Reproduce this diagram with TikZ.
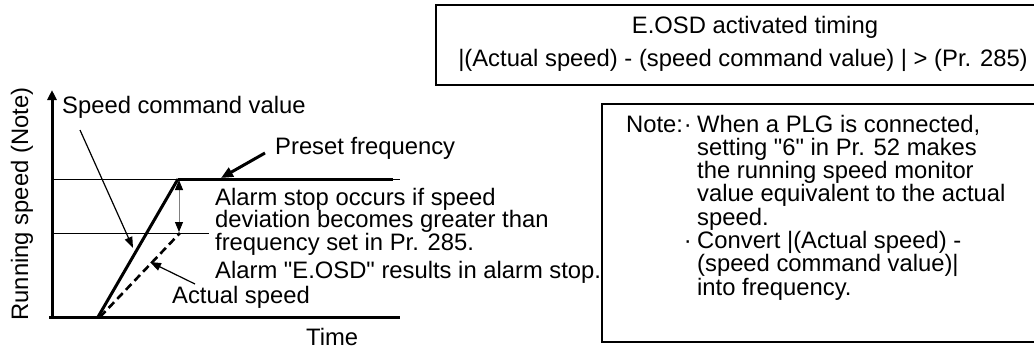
\documentclass[tikz,border=0pt]{standalone}
\usepackage{fontspec}
\setmainfont{Liberation Sans}
\usetikzlibrary{arrows.meta,positioning}
\definecolor{gapgray}{RGB}{128,128,128}

\begin{document}
\begin{tikzpicture}[x=1pt, y=-1pt,
  every node/.style={font=\fontsize{23.8}{23.8}\selectfont, inner sep=0pt},
  lbl/.style={anchor=base west},
  ptr/.style={line width=1.2pt, -{Triangle[length=11pt,width=8pt]}},
  boxline/.style={line width=2.2pt}]
\useasboundingbox (0,0) rectangle (1034,349);
% axes
\coordinate (origin) at (52,317);
\coordinate (ytop) at (52,90);
\coordinate (xend) at (400,317);
\draw[line width=3pt, -{Triangle[length=10pt,width=9pt]}] (origin) -- (ytop);
\draw[line width=3pt] (49,317) -- (xend);
\node[rotate=90] (ylab) at (22,204) {Running speed (Note)};
\node[lbl] (tlab) at (306,345) {Time};
% levels and speed curves
\coordinate (cmdstart) at (98,317);
\coordinate (cmdtop) at (178,179);
\coordinate (actstart) at (100,317);
\coordinate (acttop) at (180,233);
\draw[line width=1pt] (52,179) -- (cmdtop);
\draw[line width=3pt] (cmdtop) -- (393,179);
\draw[line width=1pt] (393,179) -- (400,179);
\draw[line width=1pt] (52,233) -- (209,233);
\draw[line width=3pt] (cmdstart) -- (cmdtop);
\draw[line width=2.6pt, dash pattern=on 8pt off 4.5pt] (actstart) -- (acttop);
\draw[gapgray, line width=1pt,
  {Triangle[length=10pt,width=8pt,color=black]}-{Triangle[length=10pt,width=8pt,color=black]}]
  (179,180) -- (179,232);
% labels with pointers
\node[lbl] (cmdlab) at (62,113) {Speed command value};
\coordinate (cmdtail) at (80,130);
\coordinate (cmdtip) at (133,248);
\draw[ptr] (cmdtail) -- (cmdtip);
\node[lbl] (setlab) at (275,154) {Preset frequency};
\coordinate (settail) at (265,153);
\coordinate (settip) at (221,178);
\draw[line width=3pt, -{Triangle[length=12pt,width=10pt]}] (settail) -- (settip);
\node[lbl] (actlab) at (172,303) {Actual speed};
\coordinate (acttail) at (195,284);
\coordinate (acttip) at (150,262);
\draw[ptr] (acttail) -- (acttip);
\node[lbl] (alarm1) at (215,205) {Alarm stop occurs if speed};
\node[lbl] (alarm2) at (215,227.5) {deviation becomes greater than};
\node[lbl] (alarm3) at (215,250) {frequency set in Pr. 285.};
\node[lbl] (alarm4) at (215,278) {Alarm \textquotedbl E.OSD\textquotedbl{} results in alarm stop.};
% timing box
\draw[boxline] (436,5) rectangle (1052,85);
\node[anchor=base] (timing1) at (755,33) {E.OSD activated timing};
\node[anchor=base] (timing2) at (743,66) {|(Actual speed) - (speed command value) | > (Pr. 285)};
% note box
\draw[boxline] (602,104) rectangle (1052,342);
\node[lbl] (notehead) at (626,132) {Note:};
\node[anchor=base east] (dot1) at (692,132) {·};
\node[anchor=base east] (dot2) at (692,248.5) {·};
\foreach \txt [count=\i] in {{When a PLG is connected,}, {setting \textquotedbl 6\textquotedbl{} in Pr. 52 makes},
  {the running speed monitor}, {value equivalent to the actual}, {speed.},
  {Convert |(Actual speed) -}, {(speed command value)|}, {into frequency.}}
  \node[lbl] (note\i) at (697,{132+23.3*(\i-1)}) {\txt};
\end{tikzpicture}
\end{document}
